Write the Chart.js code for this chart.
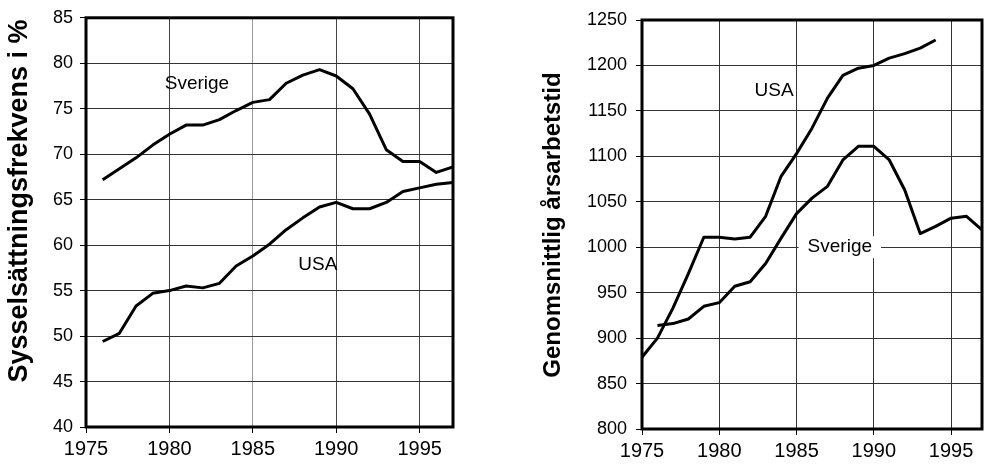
<!DOCTYPE html>
<html>
<head>
<meta charset="utf-8">
<script src="https://cdn.jsdelivr.net/npm/chart.js@4/dist/chart.umd.min.js"></script>
<style>
  body { margin: 0; background: #fff; }
  .panel { position: absolute; top: 0; }
</style>
</head>
<body>
<div class="panel" style="left:0"><canvas id="left" width="490" height="469"></canvas></div>
<div class="panel" style="left:495px"><canvas id="right" width="490" height="469"></canvas></div>
<script>
"use strict";

// left panel: sysselsättningsfrekvens i %, 1976-1997
const sysYears = [1976, 1977, 1978, 1979, 1980, 1981, 1982, 1983, 1984, 1985, 1986,
  1987, 1988, 1989, 1990, 1991, 1992, 1993, 1994, 1995, 1996, 1997];
const sysSverige = [67.2, 68.4, 69.6, 71.0, 72.2, 73.2, 73.2, 73.8, 74.8, 75.7, 76.0,
  77.8, 78.7, 79.3, 78.6, 77.2, 74.4, 70.5, 69.2, 69.2, 68.0, 68.6];
const sysUSA = [49.4, 50.3, 53.3, 54.7, 55.0, 55.5, 55.3, 55.8, 57.7, 58.8, 60.1,
  61.7, 63.0, 64.2, 64.7, 64.0, 64.0, 64.7, 65.9, 66.3, 66.7, 66.9];

// right panel: genomsnittlig årsarbetstid
const tidYearsUSA = [1975, 1976, 1977, 1978, 1979, 1980, 1981, 1982, 1983, 1984, 1985,
  1986, 1987, 1988, 1989, 1990, 1991, 1992, 1993, 1994];
const tidUSA = [879, 900, 933, 971, 1011, 1011, 1009, 1011, 1034, 1078, 1103,
  1131, 1164, 1189, 1197, 1200, 1208, 1213, 1219, 1228];
const tidYearsSverige = [1976, 1977, 1978, 1979, 1980, 1981, 1982, 1983, 1984, 1985, 1986,
  1987, 1988, 1989, 1990, 1991, 1992, 1993, 1994, 1995, 1996, 1997];
const tidSverige = [914, 916, 921, 935, 939, 957, 962, 982, 1010, 1037, 1054,
  1067, 1096, 1111, 1111, 1096, 1063, 1015, 1023, 1032, 1034, 1019];

const xTicks = [1975, 1980, 1985, 1990, 1995];

Chart.defaults.font.family = "'Liberation Sans', Arial, sans-serif";
Chart.defaults.font.size = 18;
Chart.defaults.color = "#000";

function toPoints(xs, ys) {
  return xs.map((x, i) => ({ x: x, y: ys[i] }));
}

function lineSet(xs, ys) {
  return {
    data: toPoints(xs, ys),
    borderColor: "#000",
    borderWidth: 3,
    pointRadius: 0,
    borderJoinStyle: "round",
    tension: 0,
  };
}

// frame + series names + axis title
const framePlugin = {
  id: "frame",
  afterDraw(chart, args, opts) {
    const { ctx, chartArea: a, scales } = chart;
    ctx.save();
    ctx.fillStyle = "#000";
    ctx.textAlign = "center";
    ctx.textBaseline = "middle";
    ctx.font = "19px 'Liberation Sans', Arial, sans-serif";
    opts.labels.forEach((l) => {
      const px = scales.x.getPixelForValue(l.x);
      const py = scales.y.getPixelForValue(l.y);
      if (l.box) {
        const w = ctx.measureText(l.text).width;
        ctx.fillStyle = "#fff";
        ctx.fillRect(px - w / 2 - 9, py - 11, w + 18, 22);
        ctx.fillStyle = "#000";
      }
      ctx.fillText(l.text, px, py);
    });

    ctx.translate(opts.titleX, opts.titleY);
    ctx.rotate(-Math.PI / 2);
    ctx.font = "bold " + opts.titleSize + "px 'Liberation Sans', Arial, sans-serif";
    ctx.fillText(opts.title, 0, 0);
    ctx.restore();

    ctx.save();
    ctx.strokeStyle = "#000";
    ctx.lineWidth = 3;
    ctx.strokeRect(a.left, a.top, a.right - a.left, a.bottom - a.top);
    ctx.restore();
  },
};

function makeChart(id, cfg) {
  return new Chart(document.getElementById(id), {
    type: "line",
    data: { datasets: cfg.datasets },
    plugins: [framePlugin],
    options: {
      responsive: false,
      animation: false,
      layout: { padding: cfg.padding },
      plugins: {
        legend: { display: false },
        tooltip: { enabled: false },
        frame: {
          labels: cfg.labels,
          title: cfg.title,
          titleSize: cfg.titleSize,
          titleX: cfg.titleX,
          titleY: cfg.titleY,
        },
      },
      scales: {
        x: {
          type: "linear",
          min: 1975,
          max: 1997,
          afterBuildTicks: (s) => { s.ticks = xTicks.map((v) => ({ value: v })); },
          afterFit: (s) => { s.height = cfg.xHeight; },
          grid: { color: cfg.vGrid, lineWidth: 1, tickLength: 6, tickColor: "#000" },
          border: { display: false },
          ticks: {
            color: "#000",
            padding: 4,
            maxRotation: 0,
            autoSkip: false,
            font: { size: 20 },
            callback: (v) => String(v),
          },
        },
        y: {
          min: cfg.yMin,
          max: cfg.yMax,
          afterFit: (s) => { s.width = cfg.yWidth; },
          grid: { color: "#333", lineWidth: 1, tickLength: 6, tickColor: "#000" },
          border: { display: false },
          ticks: {
            stepSize: cfg.yStep,
            color: "#000",
            padding: cfg.yPad,
            font: { size: 18 },
            callback: (v) => String(v),
          },
        },
      },
    },
  });
}

makeChart("left", {
  datasets: [lineSet(sysYears, sysSverige), lineSet(sysYears, sysUSA)],
  padding: { left: 0, right: 37, top: 17, bottom: 0 },
  yWidth: 86,
  xHeight: 42,
  yMin: 40,
  yMax: 85,
  yStep: 5,
  yPad: 7,
  vGrid: (c) => (c.tick && c.tick.value === 1985 ? "#999" : "#444"),
  title: "Sysselsättningsfrekvens i %",
  titleSize: 27,
  titleX: 20,
  titleY: 201,
  labels: [
    { text: "Sverige", x: 1981.65, y: 77.75 },
    { text: "USA", x: 1988.9, y: 57.8 },
  ],
});

makeChart("right", {
  datasets: [lineSet(tidYearsUSA, tidUSA), lineSet(tidYearsSverige, tidSverige)],
  padding: { left: 0, right: 3, top: 20, bottom: 0 },
  yWidth: 147,
  xHeight: 40,
  yMin: 800,
  yMax: 1250,
  yStep: 50,
  yPad: 9,
  vGrid: "#333",
  title: "Genomsnittlig årsarbetstid",
  titleSize: 24,
  titleX: 58,
  titleY: 225,
  labels: [
    { text: "USA", x: 1983.55, y: 1172 },
    { text: "Sverige", x: 1987.8, y: 1000, box: true },
  ],
});
</script>
</body>
</html>
